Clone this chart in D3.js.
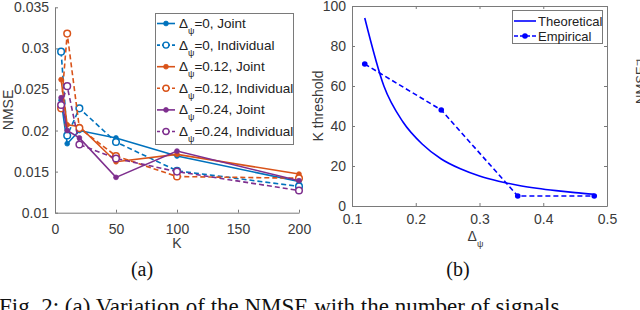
<!DOCTYPE html>
<html>
<head>
<meta charset="utf-8">
<script src="https://cdn.jsdelivr.net/npm/d3@7"></script>
<style>
    body { margin: 0; background: #fff; }
    svg { display: block; font-family: "Liberation Sans", Arial, sans-serif; }
</style>
</head>
<body>
<div id="chart"></div>
<script>
// ---- data: panel (a) ----
const kValues = [5, 10, 20, 50, 100, 200];
const nmseJoint0 = [0.0237, 0.0184, 0.0200, 0.0191, 0.0169, 0.0138];
const nmseIndiv0 = [0.0296, 0.0194, 0.0227, 0.0186, 0.0151, 0.0132];
const nmseJoint12 = [0.0262, 0.0207, 0.0205, 0.0162, 0.0171, 0.0147];
const nmseIndiv12 = [0.0227, 0.0318, 0.0203, 0.0169, 0.0144, 0.0142];
const nmseJoint24 = [0.0240, 0.0200, 0.0191, 0.0143, 0.0175, 0.0139];
const nmseIndiv24 = [0.0231, 0.0254, 0.0183, 0.0166, 0.0150, 0.0127];
const seriesDelta = ["0", "0", "0.12", "0.12", "0.24", "0.24"];
const seriesMethod = ["Joint", "Individual", "Joint", "Individual", "Joint", "Individual"];
const kTicks = [0, 50, 100, 150, 200];
const nmseTicks = [0.01, 0.015, 0.02, 0.025, 0.03, 0.035];

// ---- data: panel (b) ----
const deltaTheory = [0.12, 0.15, 0.18, 0.21, 0.24, 0.27, 0.30, 0.33, 0.36, 0.39, 0.42, 0.45, 0.48];
const kTheory = [94, 60, 42, 31, 23.5, 18.6, 15, 12.4, 10.4, 8.9, 7.7, 6.7, 5.9];
const deltaEmp = [0.12, 0.24, 0.36, 0.48];
const kEmp = [71, 48, 5, 5];
const deltaTicks = [0.1, 0.2, 0.3, 0.4, 0.5];
const kThreshTicks = [0, 20, 40, 60, 80, 100];

const width = 640, height = 310;
const axisColor = "#7a7a7a", textColor = "#3a3a3a";
const colors = ["#0072BD", "#0072BD", "#D95319", "#D95319", "#7E2F8E", "#7E2F8E"];
const nmseSeries = [nmseJoint0, nmseIndiv0, nmseJoint12, nmseIndiv12, nmseJoint24, nmseIndiv24];

let svg = d3.select("#chart").append("svg")
    .attr("width", width)
    .attr("height", height);

// style an axis group the MATLAB way
function styleAxis(g) {
    g.select(".domain").attr("stroke", axisColor);
    g.selectAll(".tick line").attr("stroke", axisColor);
    g.selectAll(".tick text").attr("fill", textColor).style("font-size", "14px");
}

// ================= panel (a) =================
let xA = d3.scaleLinear().domain([0, 200]).range([55, 299]);
let yA = d3.scaleLinear().domain([0.01, 0.035]).range([212.7, 7.3]);

svg.append("g")
    .attr("transform", `translate(0,${yA(0.01)})`)
    .call(d3.axisBottom(xA).tickValues(kTicks).tickSizeInner(-3).tickSizeOuter(0).tickPadding(11))
    .call(styleAxis);

svg.append("g")
    .attr("transform", `translate(${xA(0)},0)`)
    .call(d3.axisLeft(yA).tickValues(nmseTicks).tickFormat(d3.format("")).tickSizeInner(-3).tickSizeOuter(0).tickPadding(6))
    .call(styleAxis);

let lineA = d3.line()
    .x((d, i) => xA(kValues[i]))
    .y(d => yA(d));

nmseSeries.forEach((vals, s) => {
    let dashed = s % 2 === 1;
    svg.append("path")
        .datum(vals)
        .attr("fill", "none")
        .attr("stroke", colors[s])
        .attr("stroke-width", 1.6)
        .attr("stroke-dasharray", dashed ? "5,3" : null)
        .attr("d", lineA);

    svg.append("g")
        .selectAll("circle")
        .data(vals)
        .join("circle")
        .attr("cx", (d, i) => xA(kValues[i]))
        .attr("cy", d => yA(d))
        .attr("r", dashed ? 3.3 : 2.4)
        .attr("fill", dashed ? "#fff" : colors[s])
        .attr("stroke", colors[s])
        .attr("stroke-width", dashed ? 1.5 : 0.8);
});

svg.append("text")
    .attr("transform", `translate(13,${(yA(0.01) + yA(0.035)) / 2}) rotate(-90)`)
    .attr("text-anchor", "middle")
    .attr("fill", textColor)
    .style("font-size", "14px")
    .text("NMSE");

svg.append("text")
    .attr("x", (xA(0) + xA(200)) / 2)
    .attr("y", 248)
    .attr("text-anchor", "middle")
    .attr("fill", textColor)
    .style("font-size", "14px")
    .text("K");

// legend (a)
let legA = svg.append("g");
legA.append("rect")
    .attr("x", 155.5).attr("y", 13.5)
    .attr("width", 138).attr("height", 131)
    .attr("fill", "#fff").attr("stroke", axisColor);

seriesDelta.forEach((dv, s) => {
    let cy = 23.5 + s * 21.6;
    let dashed = s % 2 === 1;
    legA.append("line")
        .attr("x1", 157).attr("x2", 175).attr("y1", cy).attr("y2", cy)
        .attr("stroke", colors[s]).attr("stroke-width", 1.6)
        .attr("stroke-dasharray", dashed ? "3,2" : null);
    legA.append("circle")
        .attr("cx", 166).attr("cy", cy)
        .attr("r", dashed ? 3 : 2.4)
        .attr("fill", dashed ? "#fff" : colors[s])
        .attr("stroke", colors[s]).attr("stroke-width", dashed ? 1.4 : 0.8);
    let t = legA.append("text")
        .attr("x", 179).attr("y", cy + 4.5)
        .attr("fill", "#222")
        .style("font-size", "13.5px");
    t.append("tspan").text("Δ");
    t.append("tspan").attr("dy", 6).style("font-size", "9px").text("ψ");
    t.append("tspan").attr("dy", -6).text(`=${dv}, ${seriesMethod[s]}`);
});

// ================= panel (b) =================
let xB = d3.scaleLinear().domain([0.1, 0.5]).range([352, 607]);
let yB = d3.scaleLinear().domain([0, 100]).range([206, 6]);

svg.append("g")
    .attr("transform", `translate(0,${yB(0)})`)
    .call(d3.axisBottom(xB).tickValues(deltaTicks).tickFormat(d3.format("")).tickSizeInner(-3).tickSizeOuter(0).tickPadding(8))
    .call(styleAxis);
svg.append("g")
    .attr("transform", `translate(0,${yB(100)})`)
    .call(d3.axisTop(xB).tickValues(deltaTicks).tickSizeInner(-3).tickSizeOuter(0).tickFormat(""))
    .call(styleAxis);
svg.append("g")
    .attr("transform", `translate(${xB(0.1)},0)`)
    .call(d3.axisLeft(yB).tickValues(kThreshTicks).tickSizeInner(-3).tickSizeOuter(0).tickPadding(6))
    .call(styleAxis);
svg.append("g")
    .attr("transform", `translate(${xB(0.5)},0)`)
    .call(d3.axisRight(yB).tickValues(kThreshTicks).tickSizeInner(-3).tickSizeOuter(0).tickFormat(""))
    .call(styleAxis);

svg.append("path")
    .datum(kTheory)
    .attr("fill", "none")
    .attr("stroke", "#0000ff")
    .attr("stroke-width", 1.6)
    .attr("d", d3.line()
        .x((d, i) => xB(deltaTheory[i]))
        .y(d => yB(d))
        .curve(d3.curveMonotoneX));

svg.append("path")
    .datum(kEmp)
    .attr("fill", "none")
    .attr("stroke", "#0000ff")
    .attr("stroke-width", 1.6)
    .attr("stroke-dasharray", "5,3")
    .attr("d", d3.line()
        .x((d, i) => xB(deltaEmp[i]))
        .y(d => yB(d)));

svg.append("g")
    .selectAll("circle")
    .data(kEmp)
    .join("circle")
    .attr("cx", (d, i) => xB(deltaEmp[i]))
    .attr("cy", d => yB(d))
    .attr("r", 2.8)
    .attr("fill", "#0000ff");

svg.append("text")
    .attr("transform", `translate(323,${(yB(0) + yB(100)) / 2}) rotate(-90)`)
    .attr("text-anchor", "middle")
    .attr("fill", textColor)
    .style("font-size", "14px")
    .text("K threshold");

let xlabB = svg.append("text")
    .attr("x", (xB(0.1) + xB(0.5)) / 2 - 4)
    .attr("y", 241)
    .attr("text-anchor", "middle")
    .attr("fill", textColor)
    .style("font-size", "14px");
xlabB.append("tspan").text("Δ");
xlabB.append("tspan").attr("dy", 6).style("font-size", "9px").text("ψ");

// legend (b)
let legB = svg.append("g");
legB.append("rect")
    .attr("x", 512.5).attr("y", 10.5)
    .attr("width", 90).attr("height", 33)
    .attr("fill", "#fff").attr("stroke", axisColor);
["Theoretical", "Empirical"].forEach((name, i) => {
    let cy = 21 + i * 15;
    legB.append("line")
        .attr("x1", 514).attr("x2", 536).attr("y1", cy).attr("y2", cy)
        .attr("stroke", "#0000ff").attr("stroke-width", 1.6)
        .attr("stroke-dasharray", i === 1 ? "4,2" : null);
    if (i === 1) {
        legB.append("circle").attr("cx", 525).attr("cy", cy).attr("r", 2.8).attr("fill", "#0000ff");
    }
    legB.append("text")
        .attr("x", 538).attr("y", cy + 4.5)
        .attr("fill", "#222")
        .style("font-size", "13px")
        .text(name);
});

// neighbouring panel label, cut by the edge
svg.append("text")
    .attr("transform", "translate(645,81) rotate(-90)")
    .attr("text-anchor", "middle")
    .attr("fill", textColor)
    .style("font-size", "13px")
    .text("NMSE⁻¹");

// sub-captions and figure caption
[["(a)", 142], ["(b)", 458]].forEach(([lab, x]) => {
    svg.append("text")
        .attr("x", x).attr("y", 276)
        .attr("text-anchor", "middle")
        .style("font-family", "'Liberation Serif', 'Times New Roman', serif")
        .style("font-size", "20px")
        .attr("fill", "#111")
        .text(lab);
});

svg.append("text")
    .attr("x", -1).attr("y", 314)
    .style("font-family", "'Liberation Serif', 'Times New Roman', serif")
    .style("font-size", "23px")
    .attr("fill", "#111")
    .text("Fig. 2: (a) Variation of the NMSE with the number of signals");
</script>
</body>
</html>
